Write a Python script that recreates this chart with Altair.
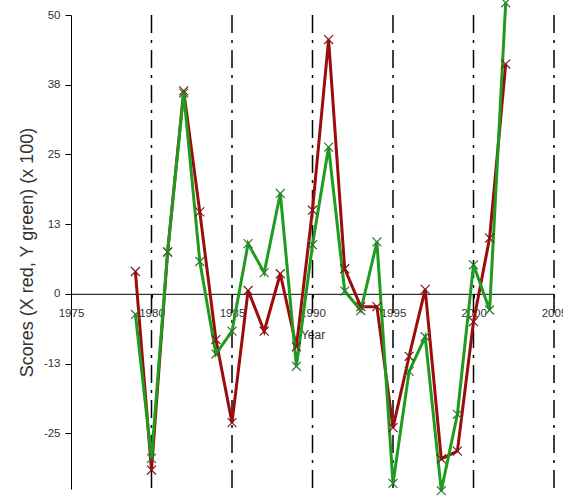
import altair as alt
import pandas as pd

# ---- data ----
years = list(range(1979, 2003))
x_scores = [4.0, -31.6, 7.5, 36.4, 14.7, -8.2, -23.1, 0.6, -6.7, 3.6, -9.5, 15.0,
            45.6, 4.5, -2.3, -2.3, -24.0, -11.2, 0.8, -29.6, -28.2, -5.0, 10.0, 41.2]
y_scores = [-3.7, -29.5, 7.5, 36.0, 5.8, -10.8, -6.7, 9.0, 3.8, 18.0, -13.0, 8.8,
            26.3, 0.5, -3.0, 9.3, -34.0, -13.9, -7.7, -35.3, -21.6, 5.2, -2.9, 52.2]
guide_years = [1980, 1985, 1990, 1995, 2000, 2005]
x_tick_values = [1975, 1980, 1985, 1990, 1995, 2000, 2005]
y_tick_values = [-25, -12.5, 0, 12.5, 25, 37.5, 50]
y_tick_labels = ["-25", "-13", "0", "13", "25", "38", "50"]
x_domain = [1975, 2005]
y_domain = [-35, 50]

W, H = 483, 474
FONT = "Liberation Sans"
RED, RED_MARK = "#9c0c0c", "#7a1a1a"
GREEN, GREEN_MARK = "#1f9c1f", "#2d7a2d"

df_x = pd.DataFrame({"Year": years, "Score": x_scores})
df_y = pd.DataFrame({"Year": years, "Score": y_scores})
df_guides = pd.DataFrame({"Year": guide_years})

label_expr = " : ".join(
    f"datum.value == {v} ? '{l}'" for v, l in zip(y_tick_values, y_tick_labels)
) + " : ''"

x_offset = -H * (0 - y_domain[0]) / (y_domain[1] - y_domain[0])

x_enc = alt.X(
    "Year:Q",
    scale=alt.Scale(domain=x_domain, nice=False, zero=False),
    axis=alt.Axis(
        values=x_tick_values, format="d", title="Year", offset=x_offset,
        grid=False, tickSize=4, labelPadding=10, domainColor="black",
        tickColor="black", labelColor="#333333", labelFontSize=11.5,
        labelFont=FONT, titleFont=FONT, titleFontSize=12,
        titleFontWeight="normal", titleColor="#333333", titlePadding=10,
        labelOverlap=False, labelFlush=False,
    ),
)
y_enc = alt.Y(
    "Score:Q",
    scale=alt.Scale(domain=y_domain, nice=False, zero=False),
    axis=alt.Axis(
        values=y_tick_values, labelExpr=label_expr,
        title="Scores (X red, Y green) (x 100)", grid=False, tickSize=6,
        labelPadding=5, domainColor="black", tickColor="black",
        labelColor="#333333", labelFontSize=11.5, labelFont=FONT,
        titleFont=FONT, titleFontSize=18, titleFontWeight="normal",
        titleColor="#333333", titlePadding=7, labelOverlap=False,
    ),
)

guides = alt.Chart(df_guides).mark_rule(
    color="black", strokeWidth=1.5, strokeDash=[18, 7, 3, 7]
).encode(x=alt.X("Year:Q", scale=alt.Scale(domain=x_domain, nice=False, zero=False)))

cross = "M-1,-1L1,1M-1,1L1,-1"

red_line = alt.Chart(df_x).mark_line(color=RED, strokeWidth=3).encode(x=x_enc, y=y_enc)
green_line = alt.Chart(df_y).mark_line(color=GREEN, strokeWidth=3).encode(x=x_enc, y=y_enc)
red_pts = alt.Chart(df_x).mark_point(
    shape=cross, size=80, filled=False, color=RED_MARK, strokeWidth=1.2, opacity=1
).encode(x=x_enc, y=y_enc)
green_pts = alt.Chart(df_y).mark_point(
    shape=cross, size=80, filled=False, color=GREEN_MARK, strokeWidth=1.2, opacity=1
).encode(x=x_enc, y=y_enc)

chart = alt.layer(guides, red_line, green_line, red_pts, green_pts).properties(
    width=W, height=H,
    autosize=alt.AutoSizeParams(type="none"),
    padding={"left": 71, "top": 15, "right": 9, "bottom": 7},
    background="white",
).configure_view(stroke=None)

chart.save("out.html", embed_options={"renderer": "svg", "actions": False})
